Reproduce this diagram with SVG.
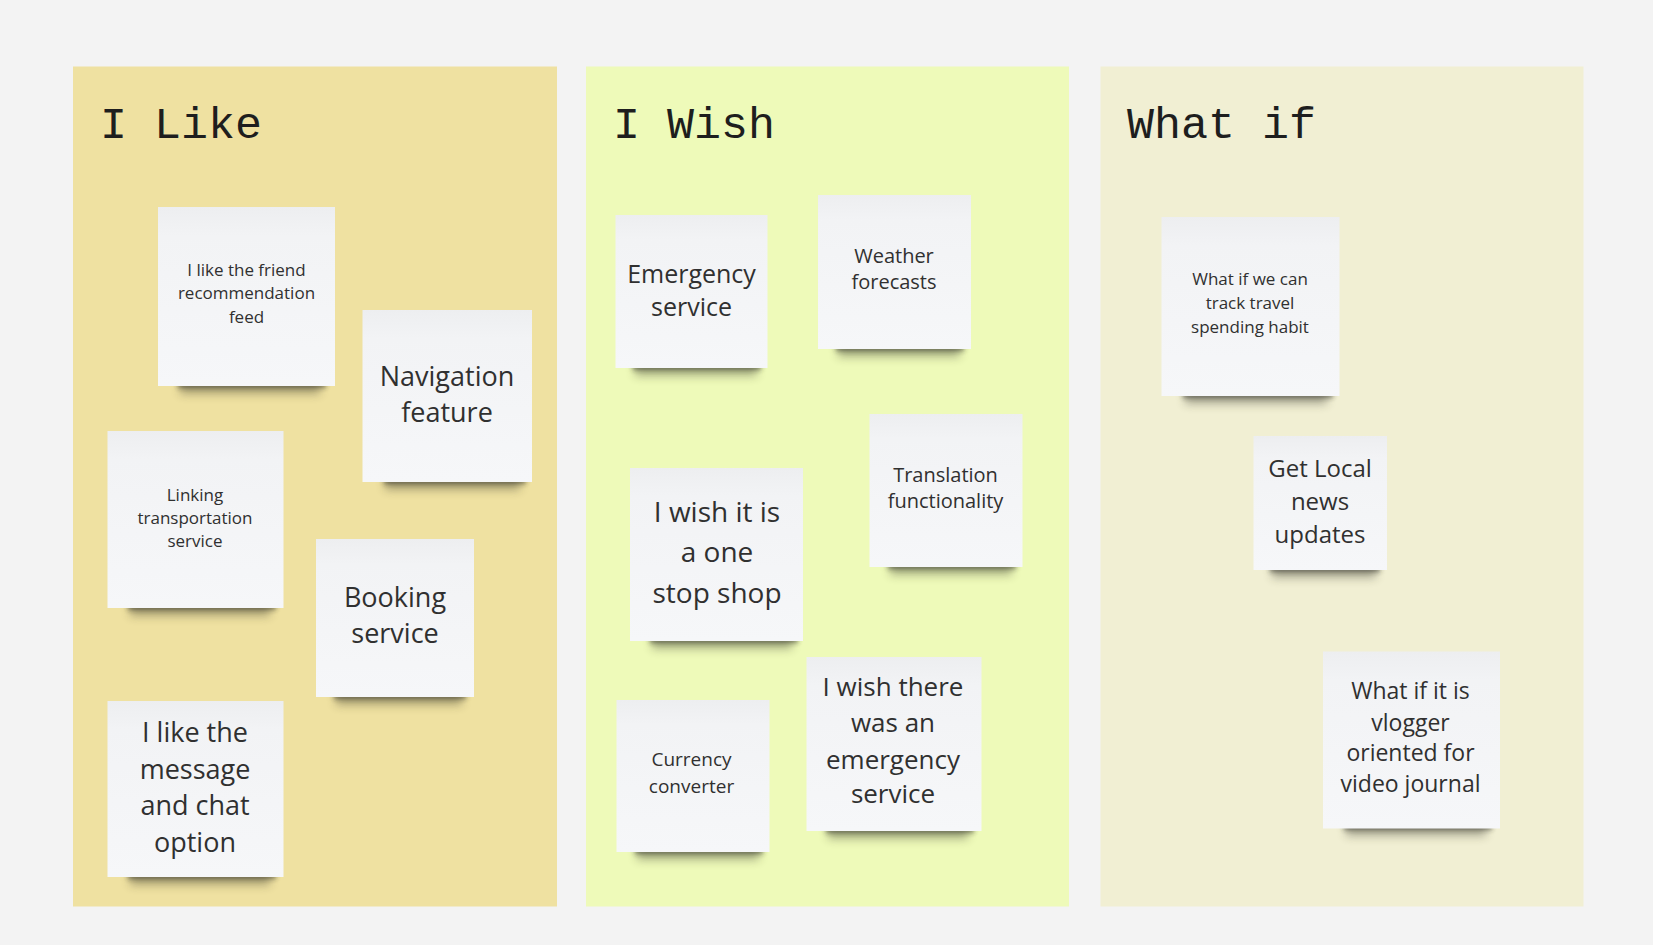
<svg xmlns="http://www.w3.org/2000/svg" width="1653" height="945" viewBox="0 0 1653 945">
<defs>
<linearGradient id="paper" x1="0" y1="0" x2="0" y2="1">
<stop offset="0" stop-color="#edeef0"/>
<stop offset="0.16" stop-color="#f2f3f5"/>
<stop offset="1" stop-color="#f6f7f9"/>
</linearGradient>
<filter id="blur" x="-20%" y="-200%" width="140%" height="500%">
<feGaussianBlur stdDeviation="5"/>
</filter>
<filter id="blur2" x="-20%" y="-200%" width="140%" height="500%">
<feGaussianBlur stdDeviation="2.5"/>
</filter>
</defs>
<style>
.title{font-family:"Liberation Mono","DejaVu Sans Mono",monospace;font-size:45px;fill:#1e1e1e}
.note{fill:url(#paper)}
.sh1{fill:#2e2e22;opacity:0.35;filter:url(#blur)}
.sh2{fill:#2a2a20;opacity:0.55;filter:url(#blur2)}
.t{font-family:"Open Sans","Noto Sans","Liberation Sans",sans-serif;fill:#303030;text-anchor:middle}
</style>
<rect x="0" y="0" width="1653" height="945" fill="#f3f3f3"/>

<g id="panel-like">
<rect x="73" y="66.5" width="484" height="840" fill="#efe1a1"/>
<text class="title" x="100" y="138">I Like</text>
</g>
<g id="panel-wish">
<rect x="586" y="66.5" width="483" height="840" fill="#eefab9"/>
<text class="title" x="613" y="138">I Wish</text>
</g>
<g id="panel-whatif">
<rect x="1100.5" y="66.5" width="483" height="840" fill="#f1efd3"/>
<text class="title" x="1127" y="138">What if</text>
</g>

<g id="note-friend">
<rect class="sh1" x="180" y="378" width="140" height="16"/>
<rect class="sh2" x="178" y="382" width="148" height="6"/>
<rect class="note" x="158" y="207" width="177" height="179"/>
<text class="t" font-size="17"><tspan x="246.5" y="276">I like the friend</tspan><tspan x="246.5" y="299">recommendation</tspan><tspan x="246.5" y="322.5">feed</tspan></text>
</g>
<g id="note-navigation">
<rect class="sh1" x="385" y="474" width="135" height="16"/>
<rect class="sh2" x="384" y="478" width="142" height="6"/>
<rect class="note" x="362.5" y="310" width="169.5" height="172"/>
<text class="t" font-size="27"><tspan x="447" y="386">Navigation</tspan><tspan x="447" y="422">feature</tspan></text>
</g>
<g id="note-linking">
<rect class="sh1" x="130" y="600" width="140" height="16"/>
<rect class="sh2" x="128" y="604" width="148" height="6"/>
<rect class="note" x="107.5" y="431" width="176" height="177"/>
<text class="t" font-size="17"><tspan x="195" y="501">Linking</tspan><tspan x="195" y="524">transportation</tspan><tspan x="195" y="547">service</tspan></text>
</g>
<g id="note-booking">
<rect class="sh1" x="336" y="689" width="126" height="16"/>
<rect class="sh2" x="334" y="693" width="132" height="6"/>
<rect class="note" x="316" y="539" width="158" height="158"/>
<text class="t" font-size="27"><tspan x="395" y="607">Booking</tspan><tspan x="395" y="643">service</tspan></text>
</g>
<g id="note-message">
<rect class="sh1" x="130" y="869" width="140" height="16"/>
<rect class="sh2" x="128" y="873" width="148" height="6"/>
<rect class="note" x="107.5" y="701" width="176" height="176"/>
<text class="t" font-size="27"><tspan x="195" y="742">I like the</tspan><tspan x="195" y="779">message</tspan><tspan x="195" y="815">and chat</tspan><tspan x="195" y="852">option</tspan></text>
</g>

<g id="note-emergency">
<rect class="sh1" x="635" y="360" width="122" height="16"/>
<rect class="sh2" x="633" y="364" width="128" height="6"/>
<rect class="note" x="615.5" y="215" width="152" height="153"/>
<text class="t" font-size="25"><tspan x="691.5" y="282.5">Emergency</tspan><tspan x="691.5" y="316">service</tspan></text>
</g>
<g id="note-weather">
<rect class="sh1" x="838" y="341" width="122" height="16"/>
<rect class="sh2" x="836" y="345" width="128" height="6"/>
<rect class="note" x="818" y="195" width="153" height="154"/>
<text class="t" font-size="20"><tspan x="894" y="262.5">Weather</tspan><tspan x="894" y="289">forecasts</tspan></text>
</g>
<g id="note-translation">
<rect class="sh1" x="890" y="559" width="122" height="16"/>
<rect class="sh2" x="888" y="563" width="128" height="6"/>
<rect class="note" x="869.5" y="414" width="153" height="153"/>
<text class="t" font-size="20"><tspan x="945.5" y="481.8">Translation</tspan><tspan x="945.5" y="508">functionality</tspan></text>
</g>
<g id="note-onestop">
<rect class="sh1" x="652" y="633" width="140" height="16"/>
<rect class="sh2" x="650" y="637" width="148" height="6"/>
<rect class="note" x="630" y="468" width="173" height="173"/>
<text class="t" font-size="28"><tspan x="717" y="522">I wish it is</tspan><tspan x="717" y="562">a one</tspan><tspan x="717" y="603">stop shop</tspan></text>
</g>
<g id="note-currency">
<rect class="sh1" x="637" y="844" width="122" height="16"/>
<rect class="sh2" x="635" y="848" width="128" height="6"/>
<rect class="note" x="616.5" y="700" width="153" height="152"/>
<text class="t" font-size="19"><tspan x="691.5" y="766">Currency</tspan><tspan x="691.5" y="793">converter</tspan></text>
</g>
<g id="note-emergency2">
<rect class="sh1" x="828" y="823" width="140" height="16"/>
<rect class="sh2" x="826" y="827" width="148" height="6"/>
<rect class="note" x="806.5" y="657" width="175" height="174"/>
<text class="t" font-size="26"><tspan x="893" y="696">I wish there</tspan><tspan x="893" y="732">was an</tspan><tspan x="893" y="768.5">emergency</tspan><tspan x="893" y="803">service</tspan></text>
</g>

<g id="note-spending">
<rect class="sh1" x="1185" y="388" width="142" height="16"/>
<rect class="sh2" x="1183" y="392" width="150" height="6"/>
<rect class="note" x="1161.5" y="217" width="178" height="179"/>
<text class="t" font-size="17"><tspan x="1250" y="284.6">What if we can</tspan><tspan x="1250" y="309">track travel</tspan><tspan x="1250" y="333">spending habit</tspan></text>
</g>
<g id="note-news">
<rect class="sh1" x="1272" y="562" width="104" height="16"/>
<rect class="sh2" x="1270" y="566" width="110" height="6"/>
<rect class="note" x="1253.5" y="436" width="133.5" height="134"/>
<text class="t" font-size="24"><tspan x="1320" y="476.5">Get Local</tspan><tspan x="1320" y="510">news</tspan><tspan x="1320" y="543">updates</tspan></text>
</g>
<g id="note-vlogger">
<rect class="sh1" x="1346" y="820" width="140" height="16"/>
<rect class="sh2" x="1344" y="824" width="148" height="6"/>
<rect class="note" x="1323" y="651.5" width="177" height="177"/>
<text class="t" font-size="23"><tspan x="1410.5" y="699">What if it is</tspan><tspan x="1410.5" y="730.5">vlogger</tspan><tspan x="1410.5" y="761">oriented for</tspan><tspan x="1410.5" y="792">video journal</tspan></text>
</g>
</svg>
